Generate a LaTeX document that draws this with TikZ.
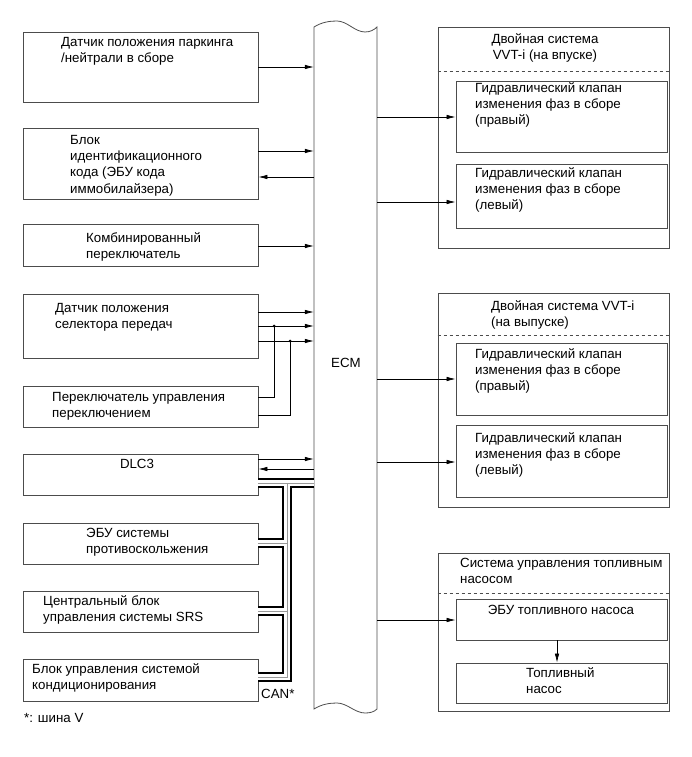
\documentclass[tikz,border=0pt]{standalone}
\usepackage{fontspec}
\setmainfont{Liberation Sans}
\usetikzlibrary{calc,positioning}
\usetikzlibrary{arrows.meta}

\begin{document}
\begin{tikzpicture}[x=1pt,y=-1pt,every node/.style={font=\fontsize{13.3}{16.3}\selectfont}]
    \tikzstyle{bnode} = [draw=black!70, line width=0.8pt, rectangle, inner sep=0pt]
    \tikzstyle{tnode} = [inner sep=0pt, align=left, anchor=north west]
    \tikzstyle{arr} = [line width=0.7pt, -{Latex[length=9pt,width=4.5pt]}]
    \tikzstyle{wire} = [line width=0.7pt]
    \useasboundingbox (0,0) rectangle (691,757);

    % left side
    \node[bnode, minimum width=235pt, minimum height=70pt] (park) at (140.5,67) {};
    \node[bnode, minimum width=235pt, minimum height=71pt] (immo) at (140.5,163.5) {};
    \node[bnode, minimum width=235pt, minimum height=42pt] (comb) at (140.5,245) {};
    \node[bnode, minimum width=235pt, minimum height=64pt] (sel) at (140.5,326) {};
    \node[bnode, minimum width=235pt, minimum height=41pt] (shift) at (140.5,406.5) {};
    \node[bnode, minimum width=235pt, minimum height=41pt] (dlc) at (140.5,474.5) {};
    \node[bnode, minimum width=235pt, minimum height=41pt] (abs) at (140.5,543.5) {};
    \node[bnode, minimum width=235pt, minimum height=41pt] (srs) at (140.5,611.5) {};
    \node[bnode, minimum width=235pt, minimum height=42pt] (aircon) at (140.5,680) {};

    \node[tnode] (parktxt) at (61,37) {Датчик положения паркинга\\/нейтрали в сборе};
    \node[tnode] (immotxt) at (70,135) {Блок\\идентификационного\\кода (ЭБУ кода\\иммобилайзера)};
    \node[tnode] (combtxt) at (86,232) {Комбинированный\\переключатель};
    \node[tnode] (seltxt) at (55,303) {Датчик положения\\селектора передач};
    \node[tnode] (shifttxt) at (52,392) {Переключатель управления\\переключением};
    \node (dlctxt) at (137,464) {DLC3};
    \node[tnode] (abstxt) at (86,528) {ЭБУ системы\\противоскольжения};
    \node[tnode] (srstxt) at (43,595) {Центральный блок\\управления системы SRS};
    \node[tnode] (aircontxt) at (32,663) {Блок управления системой\\кондиционирования};
    \node[inner sep=0pt, anchor=west] (cantxt) at (261,694) {CAN*};
    \node[inner sep=0pt, anchor=west] (note) at (24,718) {*: шина V};

    % ECM
    \node[minimum width=63pt, minimum height=682pt, inner sep=0pt] (ecm) at (345.5,368) {};
    \draw[draw=black!70, line width=0.8pt] (314,27) .. controls (322,22) and (330,21) .. (337,21)
      .. controls (347,21) and (355,32) .. (365,32) .. controls (370,32) and (374,30) .. (377,27)
      -- (377,709) .. controls (374,712) and (370,713) .. (365,713)
      .. controls (355,713) and (347,703) .. (337,703) .. controls (330,703) and (322,704) .. (314,709)
      -- cycle;
    \node (ecmtxt) at (346,363) {ECM};

    % right side
    \node[bnode, minimum width=231pt, minimum height=221pt] (vvtin) at (553.5,137.5) {};
    \node[bnode, minimum width=231pt, minimum height=214pt] (vvtex) at (553.5,400) {};
    \node[bnode, minimum width=231pt, minimum height=158pt] (fuel) at (553.5,632) {};
    \draw[dashed, draw=black!70, line width=0.8pt] (vvtin.west |- 0,71) -- (vvtin.east |- 0,71);
    \draw[dashed, draw=black!70, line width=0.8pt] (vvtex.west |- 0,335) -- (vvtex.east |- 0,335);
    \draw[dashed, draw=black!70, line width=0.8pt] (fuel.west |- 0,593) -- (fuel.east |- 0,593);

    \node[bnode, minimum width=211pt, minimum height=71pt] (ocv1) at (561.5,116.5) {};
    \node[bnode, minimum width=211pt, minimum height=64pt] (ocv2) at (561.5,196) {};
    \node[bnode, minimum width=211pt, minimum height=72pt] (ocv3) at (561.5,379) {};
    \node[bnode, minimum width=211pt, minimum height=72pt] (ocv4) at (561.5,461) {};
    \node[bnode, minimum width=211pt, minimum height=41pt] (fpecu) at (561.5,619.5) {};
    \node[bnode, minimum width=211pt, minimum height=40pt] (fpump) at (561.5,683) {};

    \node[inner sep=0pt, align=center, anchor=north] (vvtintxt) at (545,33) {Двойная система\\VVT-i (на впуске)};
    \node[tnode] (vvtextxt) at (491,300) {Двойная система VVT-i\\(на выпуске)};
    \node[tnode] (fueltxt) at (460,558) {Система управления топливным\\насосом};
    \node[tnode] (ocv1txt) at (475,82) {Гидравлический клапан\\изменения фаз в сборе\\(правый)};
    \node[tnode] (ocv2txt) at (475,167) {Гидравлический клапан\\изменения фаз в сборе\\(левый)};
    \node[tnode] (ocv3txt) at (475,348) {Гидравлический клапан\\изменения фаз в сборе\\(правый)};
    \node[tnode] (ocv4txt) at (475,432) {Гидравлический клапан\\изменения фаз в сборе\\(левый)};
    \node (fpecutxt) at (561,610) {ЭБУ топливного насоса};
    \node[tnode] (fpumptxt) at (526,667) {Топливный\\насос};

    % connections
    \draw[arr] (park.east |- 0,67) -- (ecm.west |- 0,67);
    \draw[arr] (immo.east |- 0,151) -- (ecm.west |- 0,151);
    \draw[arr] (ecm.west |- 0,177) -- (immo.east |- 0,177);
    \draw[arr] (comb.east |- 0,246) -- (ecm.west |- 0,246);
    \draw[arr] (sel.east |- 0,312) -- (ecm.west |- 0,312);
    \draw[arr] (sel.east |- 0,326) -- (ecm.west |- 0,326);
    \draw[arr] (sel.east |- 0,341) -- (ecm.west |- 0,341);
    \coordinate (j1) at (274,326);
    \coordinate (j2) at (290,341);
    \draw[wire] (shift.east |- 0,397) -| (j1);
    \draw[wire] (shift.east |- 0,415) -| (j2);
    \fill (j1) circle (1.5pt);
    \fill (j2) circle (1.5pt);
    \draw[arr] (dlc.east |- 0,459) -- (ecm.west |- 0,459);
    \draw[arr] (ecm.west |- 0,469) -- (dlc.east |- 0,469);

    \draw[arr] (ecm.east |- 0,117) -- (ocv1.west |- 0,117);
    \draw[arr] (ecm.east |- 0,202) -- (ocv2.west |- 0,202);
    \draw[arr] (ecm.east |- 0,379) -- (ocv3.west |- 0,379);
    \draw[arr] (ecm.east |- 0,462) -- (ocv4.west |- 0,462);
    \draw[arr] (ecm.east |- 0,620) -- (fpecu.west |- 0,620);
    \draw[arr] (fpecu.south -| 557,0) -- (fpump.north -| 557,0);

    % CAN bus
    \coordinate (canj) at (287,483);
    \coordinate (canc) at (287,677);
    \foreach \w/\c in {9.7pt/black, 6.3pt/white, 0.5pt/black!40} {
      \draw[line width=\w, draw=\c, line join=miter] (dlc.east |- canj) -- (ecm.west |- canj);
      \draw[line width=\w, draw=\c, line join=miter] (canj) -- (canc) -- (aircon.east |- canc);
      \draw[line width=\w, draw=\c] (abs.east |- 0,543) -- (canj |- 0,543);
      \draw[line width=\w, draw=\c] (srs.east |- 0,611) -- (canj |- 0,611);
    }
\end{tikzpicture}
\end{document}
